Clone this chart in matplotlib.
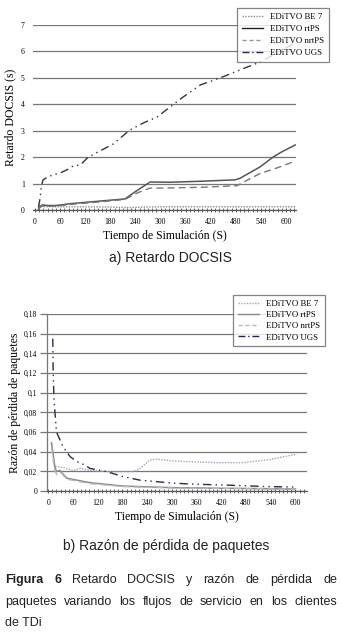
import matplotlib
matplotlib.use("Agg")
import matplotlib.pyplot as plt
from matplotlib.ticker import MultipleLocator
from matplotlib.lines import Line2D

# ---------------- data ----------------
series_names = ["EDiTVO BE 7", "EDiTVO rtPS", "EDiTVO nrtPS", "EDiTVO UGS"]

# a) Retardo DOCSIS (s)
a_be_t = [8, 12, 20, 60, 120, 180, 220, 260, 300, 400, 500, 600, 622]
a_be_y = [0.05, 0.2, 0.13, 0.12, 0.12, 0.11, 0.09, 0.11, 0.12, 0.12, 0.12, 0.12, 0.12]
a_rt_t = [8, 12, 17, 30, 50, 91, 150, 215, 245, 275, 323, 400, 478, 490, 538, 569, 590, 622]
a_rt_y = [0.02, 0.12, 0.19, 0.17, 0.17, 0.25, 0.33, 0.42, 0.75, 1.06, 1.05, 1.09, 1.14, 1.2, 1.63, 2.0, 2.2, 2.46]
a_nrt_t = [8, 12, 17, 30, 50, 91, 150, 215, 245, 275, 300, 400, 483, 510, 538, 580, 622]
a_nrt_y = [0.02, 0.1, 0.15, 0.14, 0.15, 0.22, 0.3, 0.4, 0.65, 0.83, 0.83, 0.86, 0.92, 1.15, 1.38, 1.6, 1.85]
a_ugs_t = [8, 12, 15, 19, 30, 43, 60, 80, 91, 108, 127, 151, 187, 227, 260, 292, 323, 351, 395, 443, 490, 538, 579, 620]
a_ugs_y = [0.1, 0.45, 0.9, 1.14, 1.25, 1.33, 1.4, 1.55, 1.67, 1.7, 2.0, 2.2, 2.5, 3.03, 3.3, 3.52, 3.9, 4.24, 4.73, 5.0, 5.3, 5.6, 5.95, 6.3]

# b) Razón de pérdida de paquetes
b_be_t = [12, 16, 36, 61, 77, 101, 142, 207, 223, 247, 263, 303, 344, 409, 473, 538, 603]
b_be_y = [0.03, 0.025, 0.024, 0.0207, 0.023, 0.021, 0.0197, 0.0197, 0.023, 0.0315, 0.0325, 0.0305, 0.0298, 0.0288, 0.0288, 0.032, 0.0375]
b_rt_t = [8, 16, 20, 28, 45, 101, 182, 303, 420, 520, 600]
b_rt_y = [0.049, 0.025, 0.0197, 0.021, 0.013, 0.0085, 0.005, 0.0034, 0.0028, 0.0024, 0.002]
b_nrt_t = [8, 16, 22, 30, 45, 101, 182, 303, 420, 520, 600]
b_nrt_y = [0.045, 0.02, 0.016, 0.019, 0.012, 0.0075, 0.0045, 0.003, 0.0025, 0.0022, 0.0018]
b_ugs_t = [11, 12, 14, 20, 36, 53, 69, 89, 101, 142, 182, 223, 263, 303, 350, 433, 530, 600]
b_ugs_y = [0.155, 0.12, 0.093, 0.06, 0.045, 0.035, 0.030, 0.0264, 0.023, 0.0197, 0.0146, 0.011, 0.0095, 0.008, 0.007, 0.006, 0.0045, 0.004]

xticks = list(range(0, 601, 60))
a_yticks = [0, 1, 2, 3, 4, 5, 6, 7]
b_yticks = [0, 0.02, 0.04, 0.06, 0.08, 0.1, 0.12, 0.14, 0.16, 0.18]
b_ylabels = ["0", "0,02", "0,04", "0,06", "0,08", "0,1", "0,12", "0,14", "0,16", "0,18"]

# ---------------- figure ----------------
W, H = 342, 635
fig = plt.figure(figsize=(W / 100, H / 100), dpi=100)
SERIF = "Liberation Serif"
SANS = "Liberation Sans"

def ax_rect(x0, y0, x1, y1):
    return [x0 / W, 1 - y1 / H, (x1 - x0) / W, (y1 - y0) / H]

def style_axis(ax, xlim, ylim, yticks, ylabels):
    ax.set_xlim(*xlim)
    ax.set_ylim(*ylim)
    for s in ["top", "right", "left"]:
        ax.spines[s].set_visible(False)
    ax.spines["bottom"].set_color("#555555")
    ax.spines["bottom"].set_linewidth(0.9)
    ax.set_yticks(yticks)
    ax.set_yticklabels(ylabels, fontfamily=SERIF, fontsize=5.5)
    ax.set_xticks(xticks)
    ax.set_xticklabels([str(v) for v in xticks], fontfamily=SERIF, fontsize=5.5)
    ax.xaxis.set_minor_locator(MultipleLocator(10))
    ax.tick_params(axis="x", which="major", length=3, width=0.7, color="#555555", pad=4, direction="inout")
    ax.tick_params(axis="x", which="minor", length=3, width=0.6, color="#555555", direction="inout")
    ax.tick_params(axis="y", length=0, pad=6)
    ax.grid(axis="y", color="#777777", linewidth=0.9)
    ax.set_axisbelow(True)
    ax.patch.set_alpha(0)

# ---- top chart ----
ax1 = fig.add_axes(ax_rect(33, 25, 296, 210))
style_axis(ax1, (-5, 624), (0, 7), a_yticks, [str(v) for v in a_yticks])
ax1.plot(a_be_t, a_be_y, color="#8a8a8a", lw=1.0, ls=(0, (1, 1)))
ax1.plot(a_rt_t, a_rt_y, color="#555555", lw=1.1, ls="-")
ax1.plot(a_nrt_t, a_nrt_y, color="#777777", lw=1.0, ls=(0, (5, 3)))
ax1.plot(a_ugs_t, a_ugs_y, color="#333344", lw=1.0, ls=(0, (6, 3, 1, 3, 1, 3)))
ax1.set_xlabel("Tiempo de Simulación (S)", fontfamily=SERIF, fontsize=8.5, labelpad=3)
ax1.set_ylabel("Retardo DOCSIS (s)", fontfamily=SERIF, fontsize=8.5, labelpad=3)

# ---- bottom chart ----
ax2 = fig.add_axes(ax_rect(47, 314, 307, 491))
style_axis(ax2, (-3, 628), (0, 0.18), b_yticks, b_ylabels)
ax2.spines["left"].set_visible(True)
ax2.spines["left"].set_color("#777777")
ax2.spines["left"].set_linewidth(0.9)
ax2.tick_params(axis="y", length=5, width=0.9, color="#777777", pad=2)
ax2.plot(b_be_t, b_be_y, color="#9aa6b8", lw=1.0, ls=(0, (1, 1)))
ax2.plot(b_rt_t, b_rt_y, color="#8a8a8a", lw=1.1, ls="-")
ax2.plot(b_nrt_t, b_nrt_y, color="#b8b8b8", lw=1.0, ls=(0, (5, 3)))
ax2.plot(b_ugs_t, b_ugs_y, color="#2a2a4a", lw=1.0, ls=(0, (6, 3, 1, 3, 1, 3)))
ax2.set_xlabel("Tiempo de Simulación (S)", fontfamily=SERIF, fontsize=8.5, labelpad=3)
ax2.set_ylabel("Razón de pérdida de paquetes", fontfamily=SERIF, fontsize=8.5, labelpad=2)

# ---- legends ----
def make_legend(x0, y0, colors, spacing):
    styles = [(0, (1, 1)), "-", (0, (3, 2)), (0, (5, 2, 1, 2))]
    handles = [Line2D([], [], color=c, ls=s, lw=1.0) for c, s in zip(colors, styles)]
    leg = fig.legend(handles, series_names, loc="upper left",
                     bbox_to_anchor=(x0 / W, 1 - y0 / H), bbox_transform=fig.transFigure,
                     prop={"family": SERIF, "size": 6.3}, frameon=True, fancybox=False,
                     borderpad=0.55, labelspacing=spacing, handlelength=2.4, handletextpad=0.8,
                     borderaxespad=0)
    fr = leg.get_frame()
    fr.set_edgecolor("#666666")
    fr.set_linewidth(0.9)
    fr.set_facecolor("white")
    return leg

make_legend(237, 8, ["#8a8a8a", "#222222", "#999999", "#222255"], 0.45)
make_legend(233, 295, ["#9aa6b8", "#8a8a8a", "#b8b8b8", "#222255"], 0.35)

# ---- sub captions ----
fig.text(170 / W, 1 - 258 / H, "a) Retardo DOCSIS", fontfamily=SANS, fontsize=10,
         ha="center", va="center", color="#222222")
fig.text(166 / W, 1 - 546 / H, "b) Razón de pérdida de paquetes", fontfamily=SANS, fontsize=10,
         ha="center", va="center", color="#222222")

# ---- justified figure caption ----
cap_lines = [
    [("Figura", "bold"), ("6", "bold"), ("Retardo", "normal"), ("DOCSIS", "normal"), ("y", "normal"),
     ("razón", "normal"), ("de", "normal"), ("pérdida", "normal"), ("de", "normal")],
    [(w, "normal") for w in "paquetes variando los flujos de servicio en los clientes".split()],
]
cap_last = "de TDi"
cap_y = [580, 602, 623]
X0, X1 = 5, 337
cap_size = 9.0

fig.canvas.draw()
renderer = fig.canvas.get_renderer()

def measure(words, size):
    arts = []
    for w, wt in words:
        t = fig.text(0, 0, w, fontfamily=SANS, fontsize=size, fontweight=wt, color="#222222",
                     va="center", ha="left")
        arts.append(t)
    widths = [a.get_window_extent(renderer).width for a in arts]
    return arts, widths

arts2, widths2 = measure(cap_lines[1], cap_size)
space = 2.6
total2 = sum(widths2) + space * (len(widths2) - 1)
for a in arts2:
    a.remove()
if total2 > (X1 - X0):
    cap_size = cap_size * (X1 - X0) / total2 * 0.995

for words, yy in zip(cap_lines, cap_y[:2]):
    arts, widths = measure(words, cap_size)
    gap = ((X1 - X0) - sum(widths)) / (len(widths) - 1)
    x = X0
    for a, wd in zip(arts, widths):
        a.set_position((x / W, 1 - yy / H))
        x += wd + gap
fig.text(X0 / W, 1 - cap_y[2] / H, cap_last, fontfamily=SANS, fontsize=cap_size,
         va="center", ha="left", color="#222222")

fig.savefig("out.png", dpi=100)
